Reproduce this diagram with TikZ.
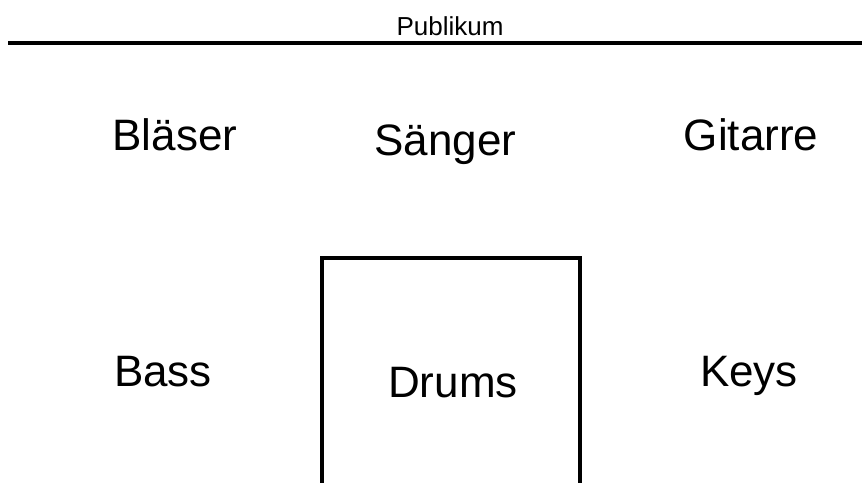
\documentclass[tikz,border=0pt]{standalone}
\usepackage{fontspec}
\setmainfont{Liberation Sans}
\begin{document}
\begin{tikzpicture}[x=1pt,y=-1pt,
  big/.style={font=\fontsize{44}{50}\selectfont, inner sep=0pt, anchor=base},
  small/.style={font=\fontsize{26}{30}\selectfont, inner sep=0pt, anchor=base}]
\useasboundingbox (0,0) rectangle (862,482);
\clip (0,0) rectangle (862,482);
\fill[white] (0,0) rectangle (862,482);
\node[small] (pub) at (450,35) {Publikum};
\coordinate (l1) at (8,43);
\coordinate (l2) at (866,43);
\draw[line width=4pt] (l1) -- (l2);
\node[big] (blaeser) at (175,150.7) {Bläser};
\node[big] (saenger) at (445.5,155) {Sänger};
\node[big] (gitarre) at (751,150.7) {Gitarre};
\node[big] (bass) at (163,386) {Bass};
\node[big] (keys) at (749,386.7) {Keys};
\draw[line width=3.5pt] (322,495) -- (322,258) -- (580,258) -- (580,495);
\node[big] (drums) at (453,397) {Drums};
\end{tikzpicture}
\end{document}
